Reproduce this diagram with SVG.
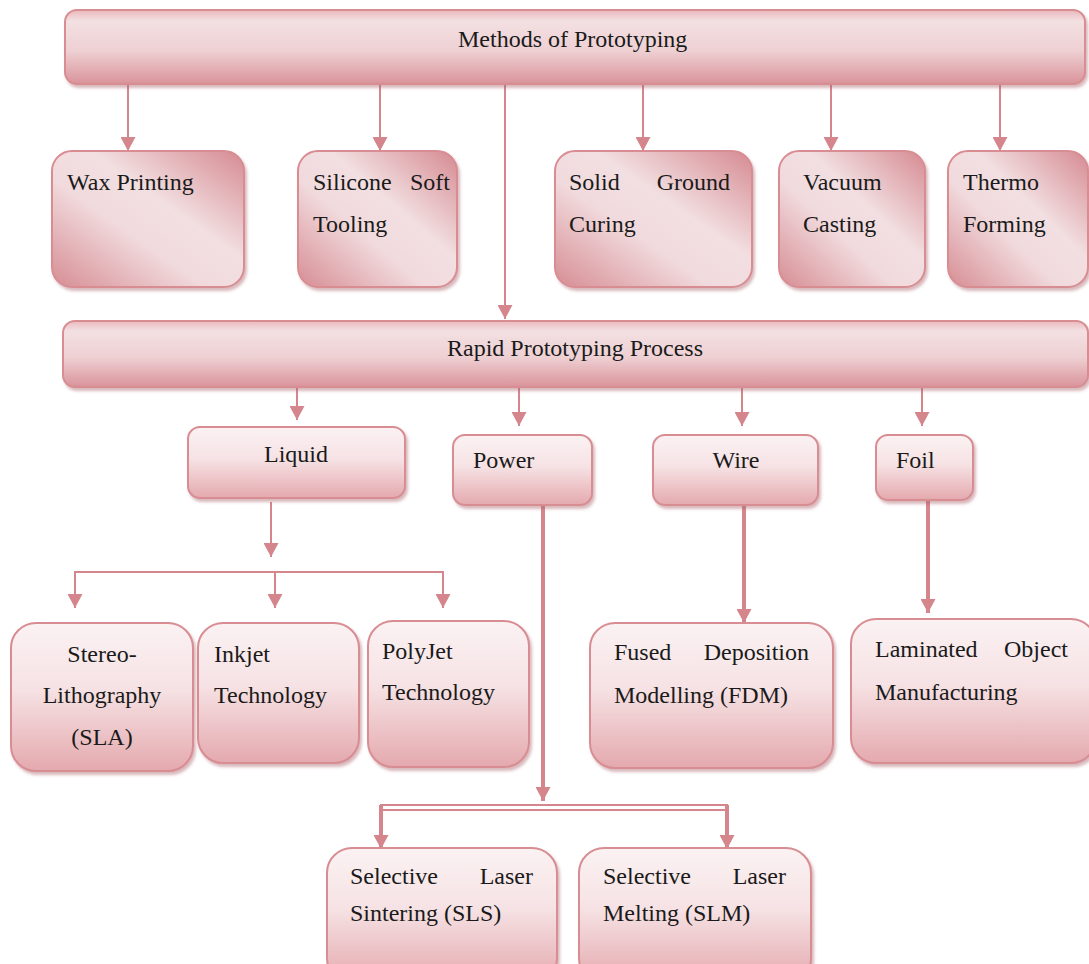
<svg xmlns="http://www.w3.org/2000/svg" width="1089" height="964" viewBox="0 0 1089 964">
<defs>
<linearGradient id="gBar" x1="0" y1="0" x2="0" y2="1">
<stop offset="0" stop-color="#eab9bd"/>
<stop offset="0.15" stop-color="#f3e0e2"/>
<stop offset="0.55" stop-color="#eed0d3"/>
<stop offset="1" stop-color="#d9939a"/>
</linearGradient>
<linearGradient id="gDiag" x1="1" y1="0" x2="0" y2="1">
<stop offset="0" stop-color="#d58a91"/>
<stop offset="0.4" stop-color="#f2dfe1"/>
<stop offset="0.6" stop-color="#f1dadd"/>
<stop offset="1" stop-color="#d68d93"/>
</linearGradient>
<linearGradient id="gVert" x1="0" y1="0" x2="0" y2="1">
<stop offset="0" stop-color="#fbf2f3"/>
<stop offset="0.45" stop-color="#f6e2e4"/>
<stop offset="1" stop-color="#e4a9ae"/>
</linearGradient>
<filter id="sh" x="-10%" y="-10%" width="125%" height="130%">
<feDropShadow dx="2" dy="3" stdDeviation="1.5" flood-color="#a9646a" flood-opacity="0.45"/>
</filter>
<marker id="ah" markerUnits="userSpaceOnUse" markerWidth="15" markerHeight="15" refX="14" refY="7.5" orient="auto">
<path d="M0,0 L14,7.5 L0,15 z" fill="#d4868c"/>
</marker>
</defs>
<style>
.bar{fill:url(#gBar);stroke:#d88d93;stroke-width:2;filter:url(#sh)}
.bx1{fill:url(#gDiag);stroke:#d88d93;stroke-width:2;filter:url(#sh)}
.bx2{fill:url(#gVert);stroke:#d88d93;stroke-width:2;filter:url(#sh)}
text{font-family:"Liberation Serif","Times New Roman",serif;font-size:24px;fill:#1a1a1a}
.c{text-anchor:middle}
.e{text-anchor:end}
.ln{stroke:#d4868c;stroke-width:2;fill:none}
.ar{stroke:#d4868c;stroke-width:2;fill:none;marker-end:url(#ah)}
.tk{stroke:#d4868c;stroke-width:4;fill:none;marker-end:url(#ah)}
</style>
<rect width="1089" height="964" fill="#ffffff"/>

<g id="connectors">
<line class="ar" x1="128" y1="84" x2="128" y2="151"/>
<line class="ar" x1="380" y1="84" x2="380" y2="151"/>
<line class="ar" x1="643" y1="84" x2="643" y2="151"/>
<line class="ar" x1="831" y1="84" x2="831" y2="151"/>
<line class="ar" x1="1000" y1="84" x2="1000" y2="151"/>
<line class="ar" x1="505" y1="84" x2="505" y2="319"/>
<line class="ar" x1="297" y1="388" x2="297" y2="420"/>
<line class="ar" x1="519" y1="388" x2="519" y2="426"/>
<line class="ar" x1="742" y1="388" x2="742" y2="426"/>
<line class="ar" x1="922" y1="388" x2="922" y2="426"/>
<line class="ar" x1="271" y1="502" x2="271" y2="557"/>
<path class="ln" d="M75,606 V572 H443 V606"/>
<line class="ar" x1="75" y1="590" x2="75" y2="608"/>
<line class="ar" x1="275" y1="572" x2="275" y2="608"/>
<line class="ar" x1="443" y1="590" x2="443" y2="608"/>
<line class="tk" x1="543" y1="506" x2="543" y2="801"/>
<line class="ln" x1="380" y1="805" x2="728" y2="805"/>
<line class="ln" x1="383" y1="810" x2="726" y2="810"/>
<line class="tk" x1="381" y1="805" x2="381" y2="849"/>
<line class="tk" x1="727" y1="805" x2="727" y2="849"/>
<line class="tk" x1="744" y1="505" x2="744" y2="623"/>
<line class="tk" x1="928" y1="500" x2="928" y2="613"/>
</g>

<g id="methods">
<rect class="bar" x="65" y="10" width="1020" height="74" rx="12"/>
<text x="458" y="47">Methods of Prototyping</text>
</g>

<g id="wax">
<rect class="bx1" x="52" y="151" width="192" height="136" rx="20"/>
<text x="67" y="190">Wax Printing</text>
</g>
<g id="silicone">
<rect class="bx1" x="298" y="151" width="159" height="136" rx="20"/>
<text x="313" y="190">Silicone</text>
<text class="e" x="450" y="190">Soft</text>
<text x="313" y="232">Tooling</text>
</g>
<g id="solid">
<rect class="bx1" x="555" y="151" width="197" height="136" rx="20"/>
<text x="569" y="190">Solid</text>
<text class="e" x="730" y="190">Ground</text>
<text x="569" y="232">Curing</text>
</g>
<g id="vacuum">
<rect class="bx1" x="779" y="151" width="146" height="136" rx="20"/>
<text x="803" y="190">Vacuum</text>
<text x="803" y="232">Casting</text>
</g>
<g id="thermo">
<rect class="bx1" x="948" y="151" width="140" height="136" rx="20"/>
<text x="963" y="190">Thermo</text>
<text x="963" y="232">Forming</text>
</g>

<g id="rapid">
<rect class="bar" x="63" y="321" width="1025" height="66" rx="12"/>
<text x="447" y="356">Rapid Prototyping Process</text>
</g>

<g id="liquid">
<rect class="bx2" x="188" y="427" width="217" height="71" rx="12"/>
<text class="c" x="296" y="462">Liquid</text>
</g>
<g id="power">
<rect class="bx2" x="453" y="435" width="139" height="70" rx="12"/>
<text x="473" y="468">Power</text>
</g>
<g id="wire">
<rect class="bx2" x="653" y="435" width="165" height="70" rx="12"/>
<text class="c" x="736" y="468">Wire</text>
</g>
<g id="foil">
<rect class="bx2" x="876" y="435" width="97" height="65" rx="12"/>
<text x="896" y="468">Foil</text>
</g>

<g id="sla">
<rect class="bx2" x="11" y="623" width="182" height="148" rx="25"/>
<text class="c" x="102" y="662">Stereo-</text>
<text class="c" x="102" y="703">Lithography</text>
<text class="c" x="102" y="745">(SLA)</text>
</g>
<g id="inkjet">
<rect class="bx2" x="198" y="623" width="161" height="140" rx="25"/>
<text x="214" y="662">Inkjet</text>
<text x="214" y="703">Technology</text>
</g>
<g id="polyjet">
<rect class="bx2" x="368" y="621" width="161" height="146" rx="25"/>
<text x="382" y="659">PolyJet</text>
<text x="382" y="700">Technology</text>
</g>

<g id="fdm">
<rect class="bx2" x="590" y="623" width="243" height="145" rx="25"/>
<text x="614" y="660">Fused</text>
<text class="e" x="809" y="660">Deposition</text>
<text x="614" y="703">Modelling (FDM)</text>
</g>
<g id="lom">
<rect class="bx2" x="851" y="619" width="245" height="144" rx="25"/>
<text x="875" y="657">Laminated</text>
<text class="e" x="1068" y="657">Object</text>
<text x="875" y="700">Manufacturing</text>
</g>

<g id="sls">
<rect class="bx2" x="327" y="848" width="230" height="135" rx="25"/>
<text x="350" y="884">Selective</text>
<text class="e" x="533" y="884">Laser</text>
<text x="350" y="921">Sintering (SLS)</text>
</g>
<g id="slm">
<rect class="bx2" x="579" y="848" width="232" height="135" rx="25"/>
<text x="603" y="884">Selective</text>
<text class="e" x="786" y="884">Laser</text>
<text x="603" y="921">Melting (SLM)</text>
</g>
</svg>
